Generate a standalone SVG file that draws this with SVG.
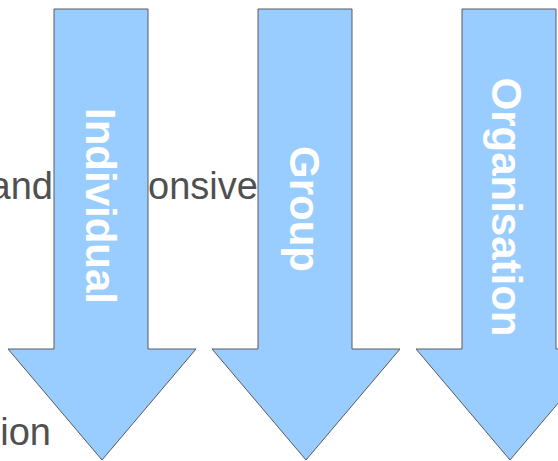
<svg xmlns="http://www.w3.org/2000/svg" width="558" height="461" viewBox="0 0 558 461">
<style>
.bg{font-family:"Liberation Sans",Arial,sans-serif;font-size:38px;fill:#505050}
.arrow{fill:#99ccff;stroke:#5a5a5a;stroke-width:1}
.lbl{font-family:"Liberation Sans",Arial,sans-serif;font-size:42px;font-weight:bold;fill:#ffffff;text-anchor:middle}
</style>
<rect width="558" height="461" fill="#ffffff"/>
<g id="background-text">
<text class="bg" x="53" y="199" text-anchor="end">and</text>
<text class="bg" x="148" y="199">onsive</text>
<text class="bg" x="51" y="445" text-anchor="end">ion</text>
</g>
<g id="connectors"></g>
<g id="node-individual">
<polygon class="arrow" points="54,9 148,9 148,349 196,349 102,460 8,349 54,349"/>
<text class="lbl" x="206" y="-86" transform="rotate(90)">Individual</text>
</g>
<g id="node-group">
<polygon class="arrow" points="258,9 352,9 352,349 400,349 306,460 212,349 258,349"/>
<text class="lbl" x="209" y="-290" transform="rotate(90)">Group</text>
</g>
<g id="node-organisation">
<polygon class="arrow" points="462,9 556,9 556,349 604,349 510,460 416,349 462,349"/>
<text class="lbl" x="207" y="-492" transform="rotate(90)">Organisation</text>
</g>
</svg>
